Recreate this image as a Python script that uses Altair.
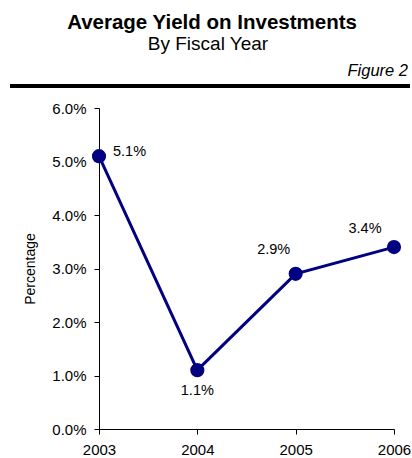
import altair as alt
import pandas as pd

years = [2003, 2004, 2005, 2006]
yields = [0.051, 0.011, 0.029, 0.034]
labels = ["5.1%", "1.1%", "2.9%", "3.4%"]
y_ticks = [0.0, 0.01, 0.02, 0.03, 0.04, 0.05, 0.06]

title_text = "Average Yield on Investments"
subtitle_text = "By Fiscal Year"
figure_text = "Figure 2"

FONT = "Liberation Sans"
NAVY = "#000080"

df = pd.DataFrame({"year": years, "value": yields, "label": labels})

x_enc = alt.X("year:Q",
              scale=alt.Scale(domain=[2003, 2006], nice=False, zero=False),
              axis=alt.Axis(values=years, format="d", title=None, grid=False,
                            labelFontSize=15, labelPadding=8, tickSize=5,
                            labelFont=FONT, labelColor="black",
                            domainColor="black", tickColor="black",
                            labelFlush=False))
y_enc = alt.Y("value:Q",
              scale=alt.Scale(domain=[0, 0.06], nice=False),
              axis=alt.Axis(values=y_ticks, format=".1%", title="Percentage",
                            grid=False, labelFontSize=15, labelPadding=8,
                            tickSize=5, labelFont=FONT, labelColor="black",
                            titleFont=FONT, titleFontSize=14,
                            titleFontWeight="normal", titlePadding=14,
                            domainColor="black", tickColor="black"))

base = alt.Chart(df)

line = base.mark_line(color=NAVY, strokeWidth=3).encode(x=x_enc, y=y_enc)
pts = base.mark_circle(color=NAVY, size=200, opacity=1).encode(x="year:Q", y="value:Q")

offsets = {2003: (14, -4, "left"), 2004: (0, 21, "center"),
           2005: (-22, -24, "center"), 2006: (-29, -18, "center")}
text_layers = []
for yr in years:
    dx, dy, al = offsets[yr]
    text_layers.append(
        base.transform_filter(alt.datum.year == yr)
        .mark_text(font=FONT, fontSize=14.5, dx=dx, dy=dy, align=al,
                   baseline="middle", color="black")
        .encode(x="year:Q", y="value:Q", text="label:N")
    )

one = pd.DataFrame({"a": [0]})
title_mark = alt.Chart(one).mark_text(
    text=title_text, font=FONT, fontSize=20.5, fontWeight="bold",
    align="center", baseline="alphabetic", color="black"
).encode(x=alt.value(113), y=alt.value(-79))
sub_mark = alt.Chart(one).mark_text(
    text=subtitle_text, font=FONT, fontSize=19,
    align="center", baseline="alphabetic", color="black"
).encode(x=alt.value(109), y=alt.value(-58))
fig_mark = alt.Chart(one).mark_text(
    text=figure_text, font=FONT, fontSize=16.5, fontStyle="italic",
    align="right", baseline="alphabetic", color="black"
).encode(x=alt.value(309), y=alt.value(-32))
rule = alt.Chart(one).mark_rule(color="black", strokeWidth=4).encode(
    x=alt.value(-89), x2=alt.value(311), y=alt.value(-22))

chart = alt.layer(line, pts, *text_layers, title_mark, sub_mark, fig_mark, rule).properties(
    width=295, height=321,
    autosize=alt.AutoSizeParams(type="none"),
    padding={"left": 99, "top": 108, "right": 18, "bottom": 29},
    background="white",
).configure_view(stroke=None)

chart.save("out.html", embed_options={"renderer": "svg", "actions": False})
